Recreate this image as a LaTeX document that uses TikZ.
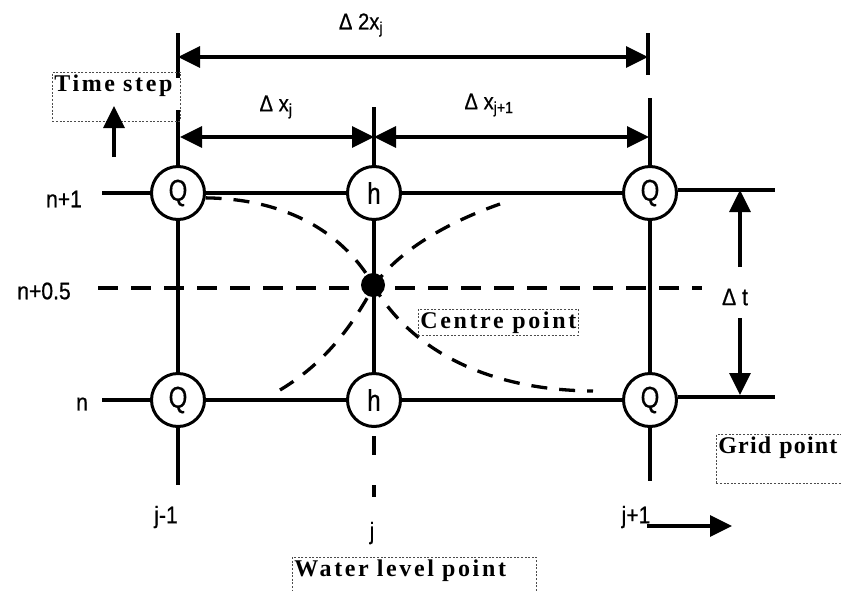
\documentclass[tikz,border=0pt]{standalone}
\usepackage{fontspec}
\setmainfont{Liberation Serif}
\newfontfamily\labelfont[FakeStretch=0.88,FakeBold=0.6]{Liberation Sans}
\newfontfamily\circfont[FakeStretch=0.8,FakeBold=0.6]{Liberation Sans}
\newfontfamily\notefont[LetterSpace=11]{Liberation Serif}
\newfontfamily\tightnotefont[LetterSpace=5]{Liberation Serif}
\usetikzlibrary{arrows.meta}
\tikzset{
  every picture/.style={line width=3.3pt},
  grid/.style={circle, draw, line width=3pt, fill=white, minimum size=53pt, inner sep=0pt, font=\circfont\fontsize{30}{30}\selectfont},
  lbl/.style={font=\labelfont\fontsize{24}{24}\selectfont, inner sep=1pt},
  dim/.style={font=\labelfont\fontsize{23}{23}\selectfont, inner sep=1pt},
  note/.style={draw=black!70, dash pattern=on 2pt off 1.6pt, line width=0.7pt, font=\notefont\bfseries\fontsize{24}{24}\selectfont, inner sep=2pt, align=left},
  arrow/.style={-{Triangle[length=22pt,width=21pt]}},
  dimline/.style={{Triangle[length=22pt,width=21pt]}-{Triangle[length=22pt,width=21pt]}},
  curve/.style={dash pattern=on 16pt off 12pt, line width=3.3pt},
  half/.style={dash pattern=on 20pt off 13pt, line width=3.6pt},
}

\begin{document}
\begin{tikzpicture}[x=1pt, y=-1pt]
  \useasboundingbox (0,0) rectangle (841,590);
  % grid points
  \node[grid] (qLt) at (178,193) {Q};
  \node[grid] (hTop) at (374,193) {h};
  \node[grid] (qRt) at (650,193) {Q};
  \node[grid] (qLb) at (178,400) {Q};
  \node[grid] (hBot) at (374,400) {h};
  \node[grid] (qRb) at (650,400) {Q};
  \coordinate (rowTl) at (102,193);
  \coordinate (rowTr) at (775,190);
  \coordinate (rowBl) at (102,400);
  \coordinate (rowBr) at (775,397);
  \coordinate (colLt) at (178,110);
  \coordinate (colLb) at (178,485);
  \coordinate (colMt) at (374,107);
  \coordinate (colMd) at (374,436);
  \coordinate (colMb) at (374,497);
  \coordinate (colRt) at (650,98);
  \coordinate (colRb) at (650,481);
  \draw (rowTl) -- (qLt) -- (hTop) -- (qRt);
  \draw (qRt.east |- rowTr) -- (rowTr);
  \draw (rowBl) -- (qLb) -- (hBot) -- (qRb);
  \draw (qRb.east |- rowBr) -- (rowBr);
  \draw (colLt) -- (qLt) -- (qLb) -- (colLb);
  \draw (colMt) -- (hTop) -- (hBot);
  \draw[dash pattern=on 19pt off 30pt] (colMd) -- (colMb);
  \draw (colRt) -- (qRt) -- (qRb) -- (colRb);
  % half time level
  \node[lbl] (dt) at (735,297) {Δ t};
  \coordinate (halfL) at (98,288);
  \coordinate (halfR) at (702,288);
  \draw[half] (halfL) -- (halfR);
  \coordinate (dtTop) at (740,190);
  \coordinate (dtBot) at (740,395);
  \draw[arrow] (740,318) -- (dtBot);
  \draw[arrow] (740,267) -- (dtTop);
  % curves through the centre
  \coordinate (c1end) at (593,391);
  \coordinate (c2start) at (280,390);
  \coordinate (c2end) at (500,204);
  \draw[curve] (qLt.-10) .. controls (290,199) and (345,235) .. (374,286)
    .. controls (403,337) and (470,390) .. (c1end);
  \draw[curve] (c2start) .. controls (330,360) and (355,320) .. (374,286)
    .. controls (395,255) and (440,225) .. (c2end);
  \node[circle, fill=black, minimum size=24pt, inner sep=0pt] (centre) at (373,285) {};
  % space steps
  \coordinate (d2L) at (178,57);
  \coordinate (d2R) at (648,57);
  \draw (178,33) -- (178,78);
  \draw (648,33) -- (648,75);
  \draw[dimline] (d2L) -- (d2R);
  \node[dim] (d2lbl) at (361,25) {Δ 2x\textsubscript{j}};
  \coordinate (d1L) at (180,137);
  \coordinate (d1M) at (374,137);
  \coordinate (d1R) at (649,137);
  \draw[dimline] (d1L) -- (d1M);
  \draw[dimline] (d1M) -- (d1R);
  \node[dim] (d1lbl) at (276,107) {Δ x\textsubscript{j}};
  \node[dim] (d3lbl) at (489,105) {Δ x\textsubscript{j+1}};
  % labels
  \node[lbl] (n1) at (64,199) {n+1};
  \node[lbl] (nh) at (44,291) {n+0.5};
  \node[lbl] (n0) at (82,404) {n};
  \node[lbl] (jm) at (166,517) {j-1};
  \node[lbl] (j0) at (372,533) {j};
  \node[lbl] (jp) at (636,517) {j+1};
  \coordinate (spaceEnd) at (732,526);
  \draw[arrow] (647,526) -- (spaceEnd);
  % notes
  \node[note, anchor=north west, text width=124pt, text depth=28pt] (tstep) at (52,72) {Time step};
  \coordinate (tsTop) at (114,106);
  \draw[arrow] (114,157) -- (tsTop);
  \node[note, anchor=north west] (cpoint) at (418,309) {Centre point};
  \node[note, anchor=north west, text width=130pt, text depth=28pt,
    font=\tightnotefont\bfseries\fontsize{24}{24}\selectfont] (gpoint) at (716,434) {Grid point};
  \node[note, anchor=north west, text width=240pt, text depth=28pt] (wpoint) at (292,557) {Water level point};
\end{tikzpicture}
\end{document}
